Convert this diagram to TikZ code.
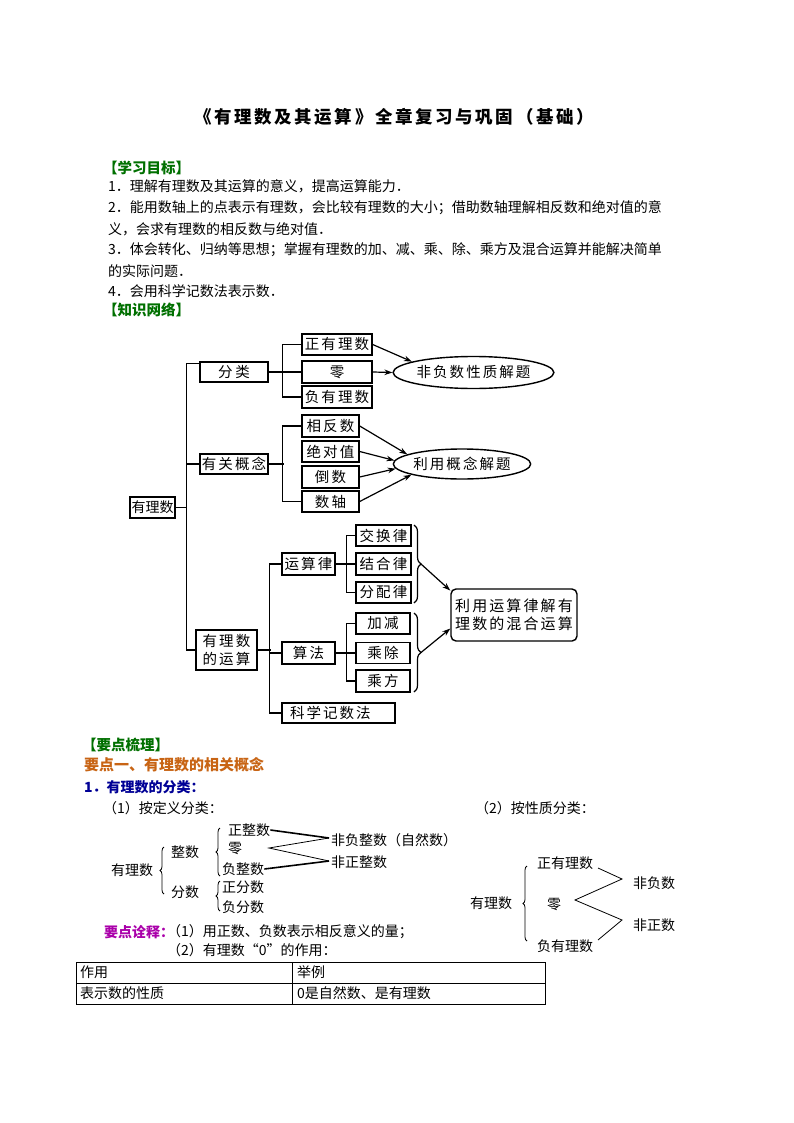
\documentclass[tikz,border=0pt]{standalone}
\usepackage{fontspec}
\setmainfont{Noto Sans CJK SC}
\newfontfamily\cjkls[LetterSpace=14]{Noto Sans CJK SC}
\newfontfamily\cjkt[LetterSpace=15]{Noto Sans CJK SC}
\usetikzlibrary{shapes.geometric,arrows.meta,decorations.pathreplacing,calc}
\newcommand\myfs[1]{\fontsize{#1}{#1}\selectfont}
\definecolor{hgreen}{RGB}{0,112,0}
\definecolor{horange}{RGB}{200,100,20}
\definecolor{hnavy}{RGB}{0,0,150}
\definecolor{hmag}{RGB}{170,0,170}
\begin{document}
\begin{tikzpicture}[x=1pt,y=-1pt,
  txt/.style={anchor=west, inner sep=0pt, font=\myfs{14}},
  bx/.style={draw, line width=1.4pt, inner sep=0pt, font=\cjkls\myfs{14.5}},
  ov/.style={ellipse, draw, line width=1.4pt, inner sep=0pt, font=\cjkls\myfs{14.5}},
  ln/.style={line width=1.4pt},
  arr/.style={line width=1.2pt, -{Stealth[length=8pt,width=5.5pt]}},
  bigbr/.style={decorate, decoration={brace, amplitude=7pt}, line width=1.2pt},
  smbr/.style={decorate, decoration={brace, amplitude=4pt}, line width=0.8pt},
  thin/.style={line width=0.8pt},
  thk/.style={line width=1.6pt}]
\useasboundingbox (0,0) rectangle (794,1123);
\fill[white] (0,0) rectangle (794,1123);

% title
\node[inner sep=0pt, font=\cjkt\bfseries\myfs{17.5}] (title) at (394,117) {《有理数及其运算》全章复习与巩固（基础）};

% learning goals
\node[txt, font=\bfseries\myfs{14.5}, text=hgreen] (h1) at (103,168) {【学习目标】};
\node[txt] (l1) at (108,186) {1．理解有理数及其运算的意义，提高运算能力．};
\node[txt] (l2) at (108,208) {2．能用数轴上的点表示有理数，会比较有理数的大小；借助数轴理解相反数和绝对值的意};
\node[txt] (l3) at (108,229) {义，会求有理数的相反数与绝对值．};
\node[txt] (l4) at (108,250) {3．体会转化、归纳等思想；掌握有理数的加、减、乘、除、乘方及混合运算并能解决简单};
\node[txt] (l5) at (108,271) {的实际问题．};
\node[txt] (l6) at (108,291) {4．会用科学记数法表示数．};
\node[txt, font=\bfseries\myfs{14.5}, text=hgreen] (h2) at (103,310) {【知识网络】};

% knowledge network
\node[bx, minimum width=45pt, minimum height=21pt, font=\myfs{14}] (root) at (152.5,507.5) {有理数};
\node[bx, minimum width=68pt, minimum height=20pt] (fl) at (234,372) {分\hspace{3pt}类};
\node[bx, minimum width=70pt, minimum height=21pt] (zy) at (337,344.5) {正有理数};
\node[bx, minimum width=70pt, minimum height=22pt] (ling) at (337,372) {零};
\node[bx, minimum width=70pt, minimum height=22pt] (fy) at (337,397) {负有理数};
\node[ov, minimum width=135pt, minimum height=32pt] (e1) at (473.5,372.5) {非负数性质解题};

\node[bx, minimum width=68pt, minimum height=20pt] (ygn) at (234,464) {有关概念};
\node[bx, minimum width=57pt, minimum height=22pt] (xfs) at (330.5,426) {相反数};
\node[bx, minimum width=57pt, minimum height=21pt] (jdz) at (330.5,451.5) {绝对值};
\node[bx, minimum width=57pt, minimum height=22pt] (ds) at (330.5,477) {倒数};
\node[bx, minimum width=57pt, minimum height=21pt] (sz) at (330.5,501.5) {数轴};
\node[ov, minimum width=112pt, minimum height=30pt] (e2) at (462,464) {利用概念解题};

\node[bx, minimum width=61pt, minimum height=40pt, align=center, font=\cjkls\fontsize{14.5}{18}\selectfont] (ys) at (226.5,650) {有理数\\的运算};
\node[bx, minimum width=53pt, minimum height=22pt] (ysl) at (308.5,564) {运算律};
\node[bx, minimum width=53pt, minimum height=22pt] (sf) at (308.5,653) {算法};
\node[bx, minimum height=20pt, text width=97pt, align=left, inner xsep=8pt] (kx) at (338.5,713) {科学记数法};
\node[bx, minimum width=55pt, minimum height=21pt] (jhl) at (383.5,535.5) {交换律};
\node[bx, minimum width=55pt, minimum height=22pt] (jhl2) at (383.5,564) {结合律};
\node[bx, minimum width=55pt, minimum height=21pt] (fpl) at (383.5,592.5) {分配律};
\node[bx, minimum width=54pt, minimum height=21pt] (jj) at (383,623.5) {加减};
\node[bx, minimum width=54pt, minimum height=21pt] (cc) at (383,653) {乘除};
\node[bx, minimum width=54pt, minimum height=22pt] (cf) at (383,681) {乘方};
\node[bx, rounded corners=5pt, minimum width=126pt, minimum height=52pt, align=center, font=\cjkls\fontsize{15}{18.5}\selectfont] (big) at (514,615) {利用运算律解有\\理数的混合运算};

% trunk
\draw[ln] ([yshift=-2pt]fl.north west) -- ++(-13,0) coordinate (tk) |- (ys.west);
\draw[ln] (root.east) -- (root.east -| tk);
\draw[ln] (ygn.west) -- (ygn.west -| tk);
% classification branch
\draw[ln] (fl.east) -- (ling.west);
\draw[ln] (zy.west) -- ++(-19,0) |- (fy.west);
% concept branch
\draw[ln] (ygn.east) -- ++(15,0);
\draw[ln] (xfs.west) -- ++(-19,0) |- (sz.west);
% operations branch
\draw[ln] (ys.east) -- ++(13,0);
\draw[ln] (ysl.west) -- ++(-12,0) |- (kx.west);
\draw[ln] (sf.west) -- ++(-12,0);
\draw[ln] (ysl.east) -- (jhl2.west);
\draw[ln] (jhl.west) -- ++(-9,0) |- (fpl.west);
\draw[ln] (sf.east) -- (cc.west);
\draw[ln] (jj.west) -- ++(-9,0) |- (cf.west);
% braces
\draw[bigbr] (414,525) -- (414,603);
\coordinate (bt1) at (421,564);
\draw[bigbr] (414,613) -- (414,692);
\coordinate (bt2) at (421,652.5);
% arrows
\draw[arr] (zy.east) -- (e1.170);
\draw[arr] (ling.east) -- (e1.west);
\draw[arr] (xfs.east) -- (e2.170);
\draw[arr] (jdz.east) -- (e2.177);
\draw[arr] (ds.east) -- (e2.184);
\draw[arr] (sz.east) -- (e2.192);
\draw[arr] (bt1) -- (big.159);
\draw[arr] (bt2) -- (big.192);

% key points
\node[txt, font=\bfseries\myfs{14.5}, text=hgreen] (h3) at (82,745) {【要点梳理】};
\node[txt, font=\bfseries\myfs{15}, text=horange] (h4) at (84,765) {要点一、有理数的相关概念};
\node[txt, font=\bfseries\myfs{14}, text=hnavy] (h5) at (84,787) {1．有理数的分类：};
\node[txt] (s1) at (103,808) {（1）按定义分类：};
\node[txt] (s2) at (475,808) {（2）按性质分类：};

% classification by definition
\node[txt] (a0) at (111,870) {有理数};
\draw[smbr] (164,894) -- (164,847);
\node[txt] (azs) at (171,852) {整数};
\node[txt] (afs) at (171,892) {分数};
\draw[smbr] (220,876) -- (220,828);
\draw[smbr] (220,911) -- (220,881);
\node[txt] (azz) at (228,830) {正整数};
\node[txt] (alg) at (228,849) {零};
\node[txt] (afz) at (222,869) {负整数};
\node[txt] (azf) at (222,887) {正分数};
\node[txt] (aff) at (222,907) {负分数};
\node[txt] (afn) at (331,840) {非负整数（自然数）};
\node[txt] (afp) at (331,862) {非正整数};
\coordinate (p0) at (269,848);
\coordinate (p1) at (329,838);
\coordinate (p2) at (329,861);
\draw[thk] (azz.east) -- (p1);
\draw[thin] (p1) -- (p0) -- (p2);
\draw[thk] (afz.east) -- (p2);

% classification by property
\node[txt] (b0) at (470,903) {有理数};
\draw[smbr] (527,941) -- (527,866);
\node[txt] (bzy) at (537,863) {正有理数};
\node[txt] (blg) at (547,905) {零};
\node[txt] (bfy) at (537,946) {负有理数};
\node[txt] (bfn) at (633,883) {非负数};
\node[txt] (bfp) at (633,925) {非正数};
\coordinate (q1) at (598,868);
\coordinate (q2) at (622,879);
\coordinate (q3) at (575,900);
\coordinate (q4) at (622,920);
\coordinate (q5) at (598,940);
\draw[thin] (q1) -- (q2) -- (q3) -- (q4) -- (q5);

% notes
\node[txt, font=\bfseries\myfs{14}, text=hmag] (n0) at (104,932) {要点诠释：};
\node[txt] (n1) at (167,932) {（1）用正数、负数表示相反意义的量；};
\node[txt] (n2) at (167,950) {（2）有理数“0”的作用：};

% table
\draw[line width=0.8pt] (76,962) rectangle (545,1004);
\draw[line width=0.8pt] (76,983) -- (545,983);
\draw[line width=0.8pt] (292,962) -- (292,1004);
\node[txt] (t1) at (80,972.5) {作用};
\node[txt] (t2) at (297,972.5) {举例};
\node[txt] (t3) at (80,993.5) {表示数的性质};
\node[txt] (t4) at (297,993.5) {0是自然数、是有理数};
\end{tikzpicture}
\end{document}
